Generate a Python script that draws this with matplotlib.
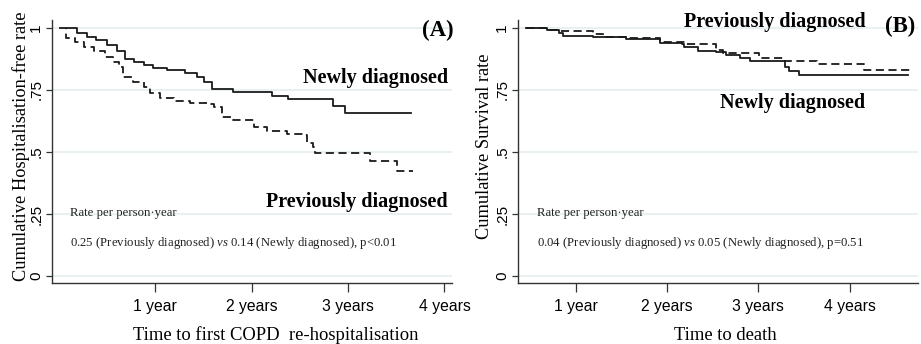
import matplotlib
matplotlib.use("Agg")
import matplotlib.pyplot as plt

# Panel A: time to first COPD re-hospitalisation (years), hospitalisation-free rate
a_new_t = [0.08, 0.19, 0.29, 0.39, 0.50, 0.60, 0.69, 0.78, 0.88, 0.98, 1.12, 1.31,
           1.43, 1.51, 1.59, 1.81, 2.21, 2.38, 2.84, 2.97, 3.65]
a_new_s = [1.0, 0.978, 0.965, 0.952, 0.930, 0.905, 0.874, 0.864, 0.850, 0.837, 0.830,
           0.820, 0.804, 0.783, 0.753, 0.743, 0.727, 0.714, 0.685, 0.656, 0.656]
a_prev_t = [0.0, 0.07, 0.17, 0.26, 0.36, 0.48, 0.56, 0.62, 0.67, 0.77, 0.88, 0.95, 1.05,
            1.19, 1.36, 1.54, 1.61, 1.69, 1.81, 2.02, 2.16, 2.37, 2.54, 2.57, 2.64, 2.66,
            3.23, 3.51, 3.67]
a_prev_s = [1.0, 0.958, 0.945, 0.925, 0.905, 0.884, 0.864, 0.844, 0.804, 0.783, 0.761,
            0.737, 0.716, 0.707, 0.699, 0.694, 0.680, 0.642, 0.629, 0.602, 0.586, 0.573,
            0.569, 0.535, 0.522, 0.495, 0.465, 0.423, 0.423]

# Panel B: time to death (years), survival rate
b_new_t = [0.45, 0.68, 0.82, 0.86, 1.19, 1.55, 1.92, 2.16, 2.18, 2.34, 2.54, 2.65, 2.80,
           2.91, 3.29, 3.34, 3.45, 4.64]
b_new_s = [1.0, 0.990, 0.978, 0.968, 0.965, 0.957, 0.940, 0.935, 0.922, 0.905, 0.903,
           0.891, 0.880, 0.867, 0.844, 0.828, 0.810, 0.810]
b_prev_t = [0.45, 0.68, 0.82, 1.19, 1.30, 1.55, 1.92, 2.21, 2.54, 2.61, 3.01, 3.27, 3.64,
            4.16, 4.68]
b_prev_s = [1.0, 0.993, 0.987, 0.974, 0.965, 0.958, 0.945, 0.934, 0.911, 0.900, 0.878,
            0.867, 0.853, 0.829, 0.829]

y_ticks = [0, 0.25, 0.5, 0.75, 1]
y_tick_labels = ["0", ".25", ".5", ".75", "1"]
x_ticks = [1, 2, 3, 4]
x_tick_labels = ["1 year", "2 years", "3 years", "4 years"]

SERIF = ["Liberation Serif", "DejaVu Serif"]
SANS = ["Liberation Sans", "DejaVu Sans"]
INK = "#1a1a1a"

plt.rcParams["mathtext.fontset"] = "custom"
plt.rcParams["mathtext.rm"] = "Liberation Serif"
plt.rcParams["mathtext.it"] = "Liberation Serif:italic"


def style_axis(ax, xlim, ylabel, xlabel, ylabel_x, xlabel_x):
    ax.set_xlim(*xlim)
    ax.set_ylim(-0.0294, 1.032)
    for side in ("top", "right"):
        ax.spines[side].set_visible(False)
    for side in ("left", "bottom"):
        ax.spines[side].set_color("#333333")
        ax.spines[side].set_linewidth(1.0)
    ax.set_yticks(y_ticks)
    ax.set_yticklabels(y_tick_labels, rotation=90, va="center", family=SANS, fontsize=11)
    ax.set_xticks(x_ticks)
    ax.set_xticklabels(x_tick_labels, family=SANS, fontsize=11.3)
    ax.tick_params(axis="y", length=4.3, width=0.9, color="#333333", pad=2)
    ax.tick_params(axis="x", length=6.5, width=0.9, color="#333333", pad=4.5)
    ax.yaxis.grid(True, color="#e4eef0", linewidth=1.2)
    ax.set_axisbelow(True)
    ax.set_ylabel(ylabel, family=SERIF, fontsize=13.2)
    ax.set_xlabel(xlabel, family=SERIF, fontsize=13.4)
    ax.yaxis.label.set_va("center")
    ax.xaxis.label.set_va("center")
    ax.yaxis.set_label_coords(ylabel_x, 0.522)
    ax.xaxis.set_label_coords(xlabel_x, -0.198)


fig = plt.figure(figsize=(9.21, 3.44), dpi=100)
ax_a = fig.add_axes([0.0565, 0.1765, 0.4345, 0.7654])
ax_b = fig.add_axes([0.5624, 0.1765, 0.4343, 0.7654])

ax_a.plot(a_new_t, a_new_s, drawstyle="steps-post", color=INK, lw=1.3)
ax_a.plot(a_prev_t, a_prev_s, drawstyle="steps-post", color=INK, lw=1.3, dashes=(4.5, 2.5))
style_axis(ax_a, (-0.07, 4.08), "Cumulative Hospitalisation-free rate",
           "Time to first COPD  re-hospitalisation", -0.0775, 0.56)

ax_b.plot(b_new_t, b_new_s, drawstyle="steps-post", color=INK, lw=1.3)
ax_b.plot(b_prev_t, b_prev_s, drawstyle="steps-post", color=INK, lw=1.3, dashes=(4.5, 2.5))
style_axis(ax_b, (0.365, 4.75), "Cumulative Survival rate", "Time to death", -0.0825, 0.5175)

bold = dict(family=SERIF, fontweight="bold", fontsize=14.5, color="black", va="center")
tag = dict(family=SERIF, fontweight="bold", fontsize=16.5, color="black", va="center")
small = dict(family=SERIF, fontsize=9.2, color="#222222", ha="left", va="center")

ax_a.text(4.095, 0.99, "(A)", ha="right", **tag)
ax_a.text(4.04, 0.80, "Newly diagnosed", ha="right", **bold)
ax_a.text(4.03, 0.30, "Previously diagnosed", ha="right", **bold)
ax_a.text(0.118, 0.254, "Rate per person\u00b7year", **small)
ax_a.text(0.118, 0.133, "0.25 (Previously diagnosed) $\\mathit{vs}$ 0.14 (Newly diagnosed), p<0.01",
          **small)

ax_b.text(4.72, 1.004, "(B)", ha="right", **tag)
ax_b.text(3.18, 1.024, "Previously diagnosed", ha="center", **bold)
ax_b.text(3.37, 0.698, "Newly diagnosed", ha="center", **bold)
ax_b.text(0.573, 0.254, "Rate per person\u00b7year", **small)
ax_b.text(0.573, 0.133, "0.04 (Previously diagnosed) $\\mathit{vs}$ 0.05 (Newly diagnosed), p=0.51",
          **small)

fig.savefig("out.png", dpi=100)
